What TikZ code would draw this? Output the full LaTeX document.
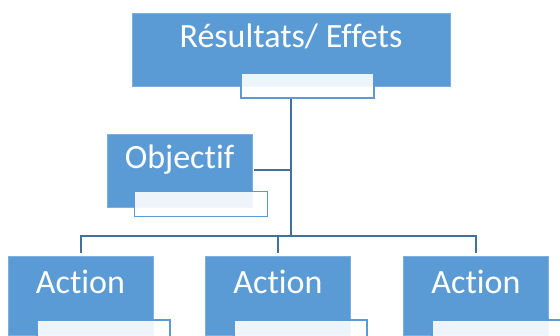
\documentclass[tikz,border=0pt]{standalone}
\usepackage{fontspec}
\setmainfont{Carlito}[Ligatures=NoCommon]
\definecolor{boxblue}{HTML}{5B9BD5}
\definecolor{lineblue}{HTML}{41719C}
\begin{document}
\begin{tikzpicture}[x=1pt, y=-1pt,
	box/.style={rectangle, fill=boxblue, draw=boxblue!80!white, line width=0.6pt, text=white, inner sep=0pt,
		minimum width=145pt, text height=35pt, text depth=38pt, font=\fontsize{34}{40}\selectfont},
	actbox/.style={box, text height=38pt, text depth=41pt},
	tag/.style={rectangle, fill=white, fill opacity=0.9, draw=boxblue, draw opacity=1, line width=1.4pt,
		minimum width=133pt, minimum height=25pt, inner sep=0pt},
	link/.style={lineblue, line width=2pt}]
	\clip (0,0) rectangle (560,336);

	\node[box, minimum width=318pt] (res) at (291,49.5)    {Résultats/ Effets};
	\node[tag]                      (t0)  at (307.5,85.5)  {};
	\node[box]                      (obj) at (179.5,170.5) {Objectif};
	\node[tag]                      (t1)  at (201,204)     {};
	\node[actbox]                   (a1)  at (80.5,295.5)  {Action};
	\node[tag]                      (t2)  at (103.5,332.5) {};
	\node[actbox]                   (a2)  at (278,295.5)   {Action};
	\node[tag]                      (t3)  at (300.5,332.5) {};
	\node[actbox]                   (a3)  at (476,295.5)   {Action};
	\node[tag]                      (t4)  at (498.5,332.5) {};

	\coordinate (hub) at (291,236);

	\draw[link] (t0.south -| hub) -- (hub);
	\draw[link, shorten <=2pt] (obj.east) -- (obj.east -| hub);
	\draw[link, shorten <=3pt, shorten >=3pt] (a1.north) |- (hub) -| (a3.north);
	\draw[link, shorten <=3pt] (a2.north) -- (a2.north |- hub);
\end{tikzpicture}
\end{document}
